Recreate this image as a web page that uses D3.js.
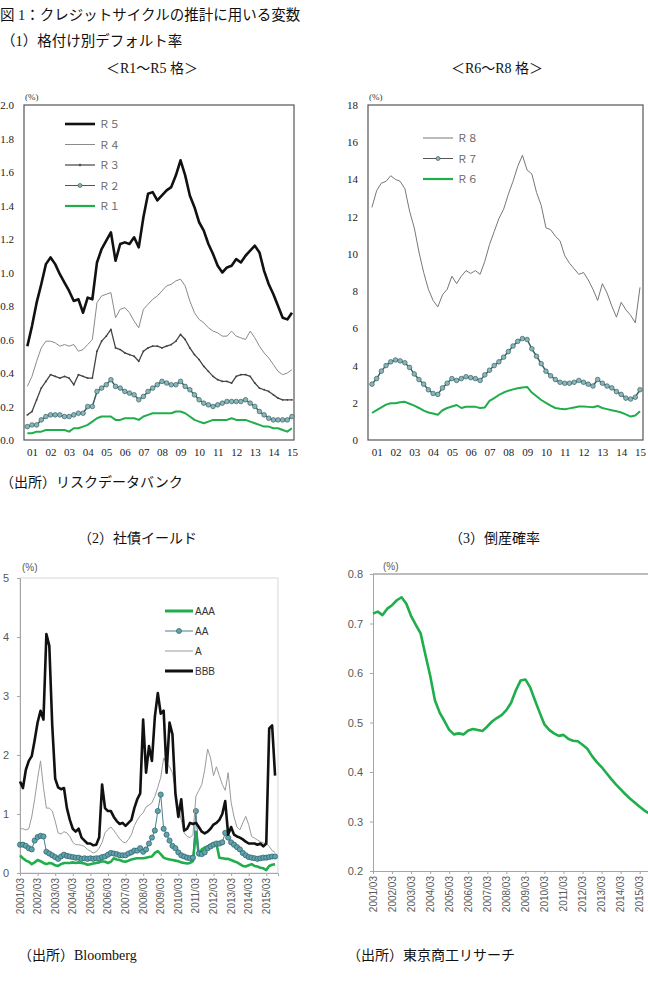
<!DOCTYPE html>
<html>
<head>
<meta charset="utf-8">
<script src="https://cdn.jsdelivr.net/npm/d3@7"></script>
<style>
  body { margin: 0; background: #fff; }
  svg { display: block; }
</style>
</head>
<body>
<svg class="chart" width="648" height="987"></svg>
<script>
// ---- (1) 格付け別デフォルト率, quarterly from 2001Q2 ----
const yearLabels = ["01", "02", "03", "04", "05", "06", "07", "08", "09", "10", "11", "12", "13", "14", "15"];

const r5 = [0.56, 0.68, 0.82,
  0.93, 1.05, 1.09, 1.05, 0.99, 0.94, 0.89, 0.83, 0.84, 0.76, 0.85, 0.84,
  1.06, 1.14, 1.19, 1.24, 1.07, 1.17, 1.18, 1.17, 1.21, 1.15, 1.33, 1.47,
  1.48, 1.43, 1.46, 1.49, 1.51, 1.58, 1.67, 1.58, 1.46, 1.39, 1.30, 1.25,
  1.17, 1.11, 1.04, 1.00, 1.03, 1.04, 1.08, 1.06, 1.10, 1.13, 1.16, 1.12,
  1.01, 0.93, 0.87, 0.80, 0.73, 0.72, 0.76];
const r4 = [0.32, 0.38, 0.47,
  0.55, 0.59, 0.59, 0.58, 0.56, 0.57, 0.56, 0.57, 0.53, 0.54, 0.57, 0.60,
  0.82, 0.86, 0.87, 0.88, 0.73, 0.78, 0.79, 0.76, 0.71, 0.67, 0.78, 0.81,
  0.84, 0.86, 0.89, 0.92, 0.93, 0.95, 0.96, 0.92, 0.83, 0.76, 0.72, 0.70,
  0.67, 0.65, 0.64, 0.62, 0.62, 0.65, 0.62, 0.61, 0.60, 0.65, 0.61, 0.56,
  0.52, 0.49, 0.45, 0.41, 0.39, 0.40, 0.42];
const r3 = [0.15, 0.17, 0.24,
  0.31, 0.35, 0.39, 0.38, 0.37, 0.38, 0.37, 0.33, 0.39, 0.38, 0.37, 0.37,
  0.53, 0.59, 0.62, 0.66, 0.55, 0.54, 0.52, 0.51, 0.50, 0.47, 0.53, 0.55,
  0.56, 0.56, 0.55, 0.56, 0.57, 0.59, 0.63, 0.60, 0.55, 0.51, 0.48, 0.44,
  0.41, 0.38, 0.36, 0.35, 0.35, 0.34, 0.38, 0.39, 0.39, 0.38, 0.34, 0.31,
  0.30, 0.29, 0.27, 0.25, 0.24, 0.24, 0.24];
const r2 = [0.08, 0.09, 0.09,
  0.12, 0.14, 0.15, 0.15, 0.15, 0.14, 0.14, 0.15, 0.16, 0.16, 0.20, 0.20,
  0.29, 0.31, 0.33, 0.36, 0.32, 0.31, 0.29, 0.28, 0.27, 0.24, 0.26, 0.29,
  0.31, 0.33, 0.35, 0.34, 0.33, 0.33, 0.35, 0.32, 0.30, 0.27, 0.24, 0.22,
  0.21, 0.20, 0.21, 0.22, 0.23, 0.23, 0.23, 0.23, 0.24, 0.22, 0.20, 0.17,
  0.15, 0.13, 0.12, 0.12, 0.12, 0.12, 0.14];
const r1 = [0.04, 0.04, 0.05,
  0.05, 0.06, 0.06, 0.06, 0.06, 0.06, 0.05, 0.07, 0.07, 0.08, 0.09, 0.11,
  0.13, 0.14, 0.14, 0.14, 0.12, 0.12, 0.13, 0.13, 0.13, 0.12, 0.14, 0.15,
  0.16, 0.16, 0.16, 0.16, 0.16, 0.17, 0.17, 0.16, 0.14, 0.12, 0.11, 0.10,
  0.11, 0.12, 0.12, 0.12, 0.12, 0.13, 0.12, 0.12, 0.12, 0.11, 0.10, 0.09,
  0.08, 0.08, 0.07, 0.07, 0.06, 0.05, 0.07];

const r8 = [12.5, 13.4, 13.8,
  13.9, 14.2, 14.0, 13.9, 13.5, 12.3, 11.4, 10.1, 9.0, 8.1, 7.5, 7.15,
  7.8, 8.1, 8.8, 8.4, 8.8, 9.1, 8.95, 9.1, 8.9, 9.6, 10.5, 11.2,
  11.9, 12.4, 13.2, 13.9, 14.7, 15.3, 14.5, 14.3, 13.3, 12.6, 11.4, 11.3,
  10.95, 10.7, 9.9, 9.5, 9.2, 8.9, 9.0, 8.6, 8.1, 7.5, 8.4, 7.9,
  7.2, 6.6, 7.4, 7.0, 6.7, 6.3, 8.2];
const r7 = [3.0, 3.3, 3.7,
  4.0, 4.2, 4.3, 4.25, 4.15, 3.9, 3.55, 3.25, 3.0, 2.7, 2.5, 2.45,
  2.8, 3.05, 3.3, 3.2, 3.3, 3.4, 3.35, 3.3, 3.2, 3.5, 3.75, 4.0,
  4.2, 4.45, 4.75, 5.05, 5.3, 5.45, 5.4, 4.9, 4.5, 4.1, 3.7, 3.45,
  3.25, 3.1, 3.05, 3.05, 3.1, 3.2, 3.1, 3.0, 2.9, 3.25, 3.05, 2.9,
  2.8, 2.6, 2.45, 2.25, 2.2, 2.3, 2.7];
const r6 = [1.45, 1.6, 1.75,
  1.9, 1.97, 1.97, 2.03, 2.05, 1.95, 1.85, 1.72, 1.58, 1.48, 1.42, 1.36,
  1.6, 1.72, 1.8, 1.88, 1.72, 1.79, 1.79, 1.78, 1.72, 1.75, 2.1, 2.25,
  2.42, 2.55, 2.65, 2.72, 2.78, 2.82, 2.85, 2.55, 2.35, 2.15, 2.0, 1.85,
  1.72, 1.68, 1.65, 1.70, 1.75, 1.80, 1.80, 1.78, 1.76, 1.83, 1.72, 1.66,
  1.6, 1.55, 1.48, 1.38, 1.26, 1.32, 1.55];

// ---- (2) 社債イールド, every two months from 2001/03 ----
const monthLabels = ["2001/03", "2002/03", "2003/03", "2004/03", "2005/03", "2006/03", "2007/03",
  "2008/03", "2009/03", "2010/03", "2011/03", "2012/03", "2013/03", "2014/03", "2015/03"];

const aaa = [0.30, 0.25, 0.21, 0.19, 0.15, 0.18, 0.22, 0.20, 0.17, 0.15, 0.17, 0.16,
  0.13, 0.12, 0.15, 0.17, 0.17, 0.17, 0.18, 0.17, 0.18, 0.17, 0.16, 0.14,
  0.15, 0.16, 0.17, 0.18, 0.20, 0.19, 0.17, 0.19, 0.25, 0.23, 0.22, 0.20,
  0.19, 0.21, 0.23, 0.24, 0.25, 0.25, 0.25, 0.26, 0.27, 0.28, 0.34, 0.37,
  0.32, 0.26, 0.24, 0.23, 0.22, 0.21, 0.20, 0.18, 0.17, 0.16, 0.17, 0.20,
  0.70, 0.30, 0.40, 0.43, 0.45, 0.48, 0.50, 0.50, 0.26, 0.25, 0.24, 0.24,
  0.22, 0.20, 0.18, 0.15, 0.12, 0.11, 0.13, 0.15, 0.12, 0.11, 0.09, 0.08,
  0.05, 0.12, 0.14, 0.15];
const aa = [0.48, 0.48, 0.46, 0.42, 0.40, 0.55, 0.61, 0.63, 0.62, 0.36, 0.33, 0.30,
  0.27, 0.24, 0.28, 0.31, 0.29, 0.28, 0.27, 0.26, 0.26, 0.24, 0.25, 0.24,
  0.25, 0.24, 0.25, 0.25, 0.27, 0.28, 0.31, 0.34, 0.33, 0.32, 0.30, 0.30,
  0.30, 0.33, 0.35, 0.38, 0.38, 0.42, 0.36, 0.40, 0.50, 0.60, 0.72, 1.05,
  1.33, 0.75, 0.65, 0.55, 0.46, 0.42, 0.35, 0.30, 0.28, 0.26, 0.25, 0.26,
  1.05, 0.33, 0.32, 0.35, 0.42, 0.45, 0.48, 0.50, 0.50, 0.52, 0.68, 0.60,
  0.52, 0.48, 0.44, 0.40, 0.34, 0.30, 0.27, 0.26, 0.25, 0.24, 0.25, 0.26,
  0.26, 0.27, 0.28, 0.28];
const ratingA = [0.75, 0.75, 0.73, 0.75, 0.95, 1.25, 1.60, 1.90, 1.45, 1.10, 1.10, 1.05,
  0.88, 0.68, 0.66, 0.70, 0.68, 0.62, 0.52, 0.48, 0.48, 0.47, 0.45, 0.40,
  0.37, 0.34, 0.36, 0.42, 0.52, 0.68, 0.74, 0.78, 0.72, 0.65, 0.58, 0.53,
  0.51, 0.57, 0.65, 0.80, 0.90, 0.97, 1.02, 1.12, 1.15, 1.19, 1.30, 1.45,
  1.62, 1.95, 1.85, 1.80, 1.70, 1.40, 1.12, 0.90, 0.68, 0.62, 0.60, 0.65,
  1.30, 1.40, 1.50, 1.75, 2.10, 1.95, 1.65, 1.80, 1.65, 1.50, 1.40, 1.70,
  1.20, 0.95, 0.78, 0.73, 0.85, 0.96, 0.82, 0.62, 0.59, 0.56, 0.53, 0.51,
  0.50, 0.45, 0.38, 0.35];
const bbb = [1.55, 1.44, 1.75, 1.90, 1.98, 2.25, 2.55, 2.75, 2.60, 4.05, 3.85, 2.50,
  1.60, 1.45, 1.42, 1.44, 1.10, 0.90, 0.75, 0.70, 0.75, 0.60, 0.55, 0.50,
  0.50, 0.47, 0.48, 0.60, 1.50, 1.10, 1.05, 1.05, 0.95, 0.88, 0.83, 0.85,
  0.80, 0.85, 0.90, 1.10, 1.25, 1.35, 2.60, 1.70, 2.15, 1.90, 2.65, 3.05,
  2.70, 2.75, 1.70, 2.55, 2.35, 1.35, 0.95, 1.25, 0.72, 0.75, 0.85, 0.83,
  0.85, 0.78, 0.70, 0.67, 0.70, 0.75, 0.82, 0.85, 0.90, 1.00, 1.22, 0.65,
  0.78, 0.65, 0.62, 0.60, 0.57, 0.53, 0.50, 0.50, 0.50, 0.48, 0.50, 0.45,
  0.50, 2.45, 2.50, 1.65];

// ---- (3) 倒産確率, quarterly from 2001/03 ----
const tsr = [0.720, 0.724, 0.717, 0.730, 0.737, 0.747, 0.753, 0.740, 0.715, 0.697,
  0.680, 0.637, 0.595, 0.545, 0.520, 0.503, 0.485, 0.476, 0.478, 0.476,
  0.484, 0.487, 0.485, 0.483, 0.492, 0.502, 0.509, 0.515, 0.525, 0.540,
  0.565, 0.585, 0.587, 0.571, 0.545, 0.520, 0.496, 0.485, 0.478, 0.473,
  0.475, 0.467, 0.463, 0.462, 0.455, 0.447, 0.432, 0.420, 0.410, 0.398,
  0.386, 0.375, 0.365, 0.355, 0.346, 0.338, 0.330, 0.322, 0.316];

const svg = d3.select(".chart");
const serif = "'Liberation Serif', serif";
const jp = "'Liberation Serif', 'Noto Sans CJK JP', sans-serif";
const gothic = "'Noto Sans CJK JP', sans-serif";
const sans = "'Liberation Sans', Arial, sans-serif";
const green = "#1fae4b";

svg.append("rect").attr("width", 648).attr("height", 987).attr("fill", "#fff");

// 文字
function label(x, y, s, size, anchor, font, color) {
  return svg.append("text")
    .attr("x", x).attr("y", y)
    .attr("text-anchor", anchor || "start")
    .style("font-family", font || jp)
    .style("font-size", size + "px")
    .style("fill", color || "#111")
    .text(s);
}

label(0, 20, "図 1：クレジットサイクルの推計に用いる変数", 14.5);
label(1, 46, "（1）格付け別デフォルト率", 14.5);
label(152, 73, "＜R1～R5 格＞", 14, "middle");
label(497, 73, "＜R6～R8 格＞", 14, "middle");
label(0, 487, "（出所）リスクデータバンク", 14);
label(78, 543, "（2）社債イールド", 14);
label(449, 543, "（3）倒産確率", 14);
label(18, 960, "（出所）Bloomberg", 14);
label(347, 960, "（出所）東京商工リサーチ", 14);

// 折れ線
function drawLine(xs, x, y, values, color, width) {
  svg.append("path")
    .datum(values)
    .attr("fill", "none")
    .attr("stroke", color)
    .attr("stroke-width", width)
    .attr("stroke-linejoin", "round")
    .attr("d", d3.line().x((d, i) => x(xs[i])).y(d => y(d)));
}

function drawDots(xs, x, y, values, r, fill, stroke) {
  svg.append("g").selectAll("circle")
    .data(values)
    .join("circle")
    .attr("cx", (d, i) => x(xs[i]))
    .attr("cy", d => y(d))
    .attr("r", r)
    .attr("fill", fill)
    .attr("stroke", stroke)
    .attr("stroke-width", 0.7);
}

// 上段の2枚（リスクデータバンク）
const quarters = d3.range(r5.length).map(i => 2001.25 + 0.25 * i);

function topPanel(left, right, domainX, maxY, stepY, fmt, pad) {
  const x = d3.scaleLinear().domain(domainX).range([left, right]);
  const y = d3.scaleLinear().domain([0, maxY]).range([440, 105]);

  const yAxis = svg.append("g")
    .attr("transform", `translate(${left},0)`)
    .call(d3.axisLeft(y).tickValues(d3.range(0, maxY + stepY / 2, stepY))
      .tickFormat(d3.format(fmt)).tickSize(0).tickPadding(pad));
  const xAxis = svg.append("g")
    .attr("transform", "translate(0,440)")
    .call(d3.axisBottom(x).tickValues(yearLabels.map((d, i) => 2001.5 + i))
      .tickFormat((d, i) => yearLabels[i]).tickSize(0).tickPadding(8));
  [yAxis, xAxis].forEach(g => {
    g.select(".domain").remove();
    g.selectAll("text").style("font-family", serif).style("font-size", "11px").style("fill", "#222");
  });

  svg.append("rect")
    .attr("x", left).attr("y", 105)
    .attr("width", right - left).attr("height", 335)
    .attr("fill", "none").attr("stroke", "#555").attr("stroke-width", 1.2);

  label(left + 1, 100, "(%)", 9, "start", serif, "#333");
  return { x, y };
}

function topLegend(x0, y0, items) {
  items.forEach((it, i) => {
    const yy = y0 + i * 20.5;
    svg.append("line")
      .attr("x1", x0).attr("x2", x0 + 30).attr("y1", yy).attr("y2", yy)
      .attr("stroke", it.color).attr("stroke-width", it.width);
    if (it.dot) {
      svg.append("circle").attr("cx", x0 + 15).attr("cy", yy).attr("r", it.dot)
        .attr("fill", it.fill).attr("stroke", "#3d5f62").attr("stroke-width", 0.7);
    }
    label(x0 + 34, yy + 4, it.name, 10.5, "start", gothic, "#666");
  });
}

const p1 = topPanel(24, 294, [2001.07, 2015.61], 2, 0.2, ".1f", 10);
drawLine(quarters, p1.x, p1.y, r4, "#8a8a8a", 1);
drawLine(quarters, p1.x, p1.y, r3, "#444", 1.3);
drawDots(quarters, p1.x, p1.y, r3, 0.9, "#444", "none");
drawLine(quarters, p1.x, p1.y, r2, "#3d5f62", 1.5);
drawDots(quarters, p1.x, p1.y, r2, 2.3, "#86b8bb", "#3d5f62");
drawLine(quarters, p1.x, p1.y, r1, green, 2);
drawLine(quarters, p1.x, p1.y, r5, "#111", 2.6);
topLegend(65, 124, [
  { name: "Ｒ５", color: "#111", width: 2.6 },
  { name: "Ｒ４", color: "#8a8a8a", width: 1 },
  { name: "Ｒ３", color: "#444", width: 1.2, dot: 1, fill: "#444" },
  { name: "Ｒ２", color: "#555", width: 1, dot: 2, fill: "#86b8bb" },
  { name: "Ｒ１", color: green, width: 2.2 }
]);

const p2 = topPanel(368, 643, [2001.04, 2015.66], 18, 2, "d", 10);
drawLine(quarters, p2.x, p2.y, r8, "#777", 1);
drawLine(quarters, p2.x, p2.y, r7, "#3d5f62", 1.5);
drawDots(quarters, p2.x, p2.y, r7, 2.3, "#86b8bb", "#3d5f62");
drawLine(quarters, p2.x, p2.y, r6, green, 2);
topLegend(423, 138, [
  { name: "Ｒ８", color: "#777", width: 1 },
  { name: "Ｒ７", color: "#555", width: 1, dot: 2, fill: "#86b8bb" },
  { name: "Ｒ６", color: green, width: 2.2 }
]);

// 下段の2枚（Excel風）
function rotatedLabels(x, y0) {
  svg.append("g").selectAll("text")
    .data(monthLabels)
    .join("text")
    .attr("transform", (d, i) => `translate(${x(i * 12) + 3.5},${y0}) rotate(-90)`)
    .attr("text-anchor", "end")
    .style("font-family", sans).style("font-size", "10px").style("fill", "#595959")
    .text(d => d);
}

function bottomAxes(x, y, left, bottom, ticksY, fmt, pad) {
  const yAxis = svg.append("g")
    .attr("transform", `translate(${left},0)`)
    .call(d3.axisLeft(y).tickValues(ticksY).tickFormat(d3.format(fmt)).tickSize(3).tickPadding(pad));
  const xAxis = svg.append("g")
    .attr("transform", `translate(0,${bottom})`)
    .call(d3.axisBottom(x).tickValues(monthLabels.map((d, i) => i * 12)).tickFormat("").tickSize(3));
  [yAxis, xAxis].forEach(g => {
    g.select(".domain").attr("stroke", "#a6a6a6");
    g.selectAll("line").attr("stroke", "#a6a6a6");
    g.selectAll("text").style("font-family", sans).style("font-size", "11px").style("fill", "#595959");
  });
  rotatedLabels(x, bottom + 5);
}

// (2) 社債イールド
const bondMonths = d3.range(bbb.length).map(i => i * 2);
const x3 = d3.scaleLinear().domain([0, 176]).range([20, 278]);
const y3 = d3.scaleLinear().domain([0, 5]).range([873, 578]);
svg.append("rect").attr("x", 20).attr("y", 578).attr("width", 258).attr("height", 295)
  .attr("fill", "none").attr("stroke", "#d4d7de").attr("stroke-width", 1);
bottomAxes(x3, y3, 20, 873, d3.range(0, 6), "d", 8);
label(22, 571, "(%)", 10, "start", sans, "#595959");

drawLine(bondMonths, x3, y3, aaa, green, 2.6);
drawLine(bondMonths, x3, y3, aa, "#4a7f8f", 1);
drawDots(bondMonths, x3, y3, aa, 2.6, "#5fa3ab", "#2e5e6b");
drawLine(bondMonths, x3, y3, ratingA, "#9a9a9a", 1);
drawLine(bondMonths, x3, y3, bbb, "#111", 2.6);

[{ name: "AAA", color: green, width: 3 },
 { name: "AA", color: "#4a7f8f", width: 1, dot: true },
 { name: "A", color: "#9a9a9a", width: 1 },
 { name: "BBB", color: "#111", width: 3 }].forEach((it, i) => {
  const yy = 611 + i * 20;
  svg.append("line").attr("x1", 165).attr("x2", 193).attr("y1", yy).attr("y2", yy)
    .attr("stroke", it.color).attr("stroke-width", it.width);
  if (it.dot) {
    svg.append("circle").attr("cx", 179).attr("cy", yy).attr("r", 2.5)
      .attr("fill", "#5fa3ab").attr("stroke", "#2e5e6b").attr("stroke-width", 0.7);
  }
  label(195, yy + 3.5, it.name, 10, "start", sans, "#333");
});

// (3) 倒産確率
const tsrMonths = d3.range(tsr.length).map(i => i * 3);
const x4 = d3.scaleLinear().domain([0, 180]).range([373, 658.75]);
const y4 = d3.scaleLinear().domain([0.2, 0.8]).range([871, 574]);
svg.append("line").attr("x1", 373).attr("x2", 660).attr("y1", 574).attr("y2", 574)
  .attr("stroke", "#a6a6a6").attr("stroke-width", 1.5);
bottomAxes(x4, y4, 373, 871, d3.range(2, 9).map(d => d / 10), ".1f", 7);
label(383, 570, "(%)", 10, "start", sans, "#595959");
drawLine(tsrMonths, x4, y4, tsr, green, 2.6);
</script>
</body>
</html>
